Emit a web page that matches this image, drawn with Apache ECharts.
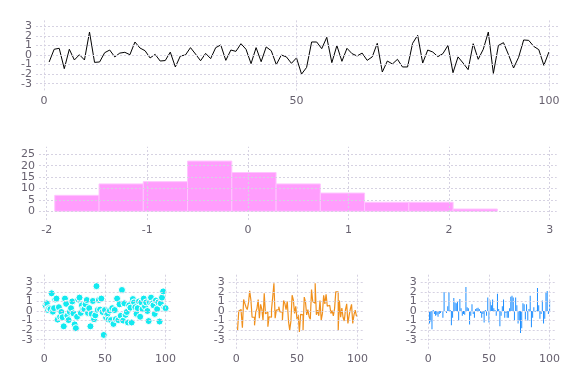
<!DOCTYPE html>
<html><head><meta charset="utf-8">
<script src="https://cdn.jsdelivr.net/npm/echarts@6/dist/echarts.min.js"></script>
<style>html,body{margin:0;padding:0;background:#fff}#c{width:576px;height:384px}</style>
</head><body><div id="c"></div>
<script>
const lineY = [-0.73,0.6,0.7,-1.43,0.6,-0.52,0.03,-0.52,2.4,-0.77,
-0.73,0.24,0.52,-0.2,0.2,0.28,0.03,1.36,0.73,0.45,
-0.31,0.07,-0.63,-0.58,0.3,-1.25,-0.1,0.0,0.77,0.1,
-0.6,0.17,-0.38,0.77,1.05,-0.56,0.52,0.38,1.18,0.6,
-0.9,0.77,-0.7,0.84,0.45,-1.0,0.0,-0.2,-0.87,-0.3,
-2.0,-1.3,1.36,1.36,0.66,1.85,-0.8,0.98,-0.66,0.7,
0.14,-0.1,0.2,-0.56,-0.2,1.22,-1.78,-0.63,-0.94,-0.45,
-1.25,-1.25,1.22,2.06,-0.84,0.52,0.31,-0.17,0.14,1.0,
-1.85,-0.2,-0.84,-1.53,1.18,-0.45,0.6,2.4,-1.92,1.0,
1.29,0.03,-1.36,-0.24,1.57,1.53,0.9,0.56,-1.08,0.31];
const histEdges = [-1.92,-1.48,-1.04,-0.60,-0.16,0.28,0.72,1.16,1.60,2.04,2.48];
const histCounts = [7,12,13,22,17,12,8,4,4,1];
const scatterY = [0.6,0.8,0.1,0.3,0.2,1.85,-0.07,0.3,1.2,1.3,
-0.9,0.4,-0.6,-0.1,-0.65,-1.6,1.3,0.75,-0.5,-0.95,
-0.1,0.3,1.0,-0.25,-1.4,-1.8,-0.6,1.2,1.4,-0.2,
0.6,0.2,0.2,0.7,1.15,-0.2,0.3,-1.6,-0.3,1.05,
-0.85,-0.45,2.6,0.1,1.15,0.15,1.3,-0.1,-2.5,0.1,
-0.7,-0.35,-0.9,0.05,-0.95,0.3,-1.35,0.1,-0.85,1.3,
-0.95,0.7,-0.5,2.2,-1.0,0.8,-0.4,-0.1,-1.2,0.6,
0.35,-1.2,1.25,0.9,0.4,-0.3,0.3,1.0,-0.6,0.9,
0.2,1.3,0.5,0.9,0.0,-1.05,0.9,1.4,0.8,0.6,
-0.3,1.1,0.2,0.9,-1.1,0.8,1.4,2.05,0.35,0.3];
const stepY = [-2.0,-2.0,0,0.15,-0.1,-1.75,1.2,0.8,0.4,0.15,
0.85,2.1,1.15,-0.65,-0.65,-1.5,-0.1,0.25,1.2,-0.75,
0.7,0.2,-0.95,1.85,-0.3,-0.1,-1.65,-0.6,-0.65,0.15,
1.45,2.9,-0.75,0.1,0.15,0.45,-0.1,-0.1,-0.95,1.1,
0.8,0.15,1.0,-1.05,-2.0,-1.05,1.65,1.15,-0.25,0.5,
-0.85,-0.4,-2.2,-0.35,-0.4,-2.0,1.45,0.95,-0.4,0.15,
-0.6,-0.85,2.25,1.0,0.8,2.9,-0.4,0.1,-0.5,1.1,
-0.95,-0.25,1.65,0.75,1.75,0.5,0.6,0.6,-0.25,0.05,
-0.5,0.25,2.0,2.0,-2.0,1.1,-0.65,0.3,-0.65,-1.05,
0.15,0.75,-1.3,-0.45,0.2,0.7,-1.3,-0.4,0.1,-0.5];
const barY = [-1.3,-1.1,-1.9,0.1,-0.3,-0.5,-0.4,-0.6,-0.3,-0.2,
-0.1,-0.7,2.0,0,-0.2,0.5,2.0,0.1,-1.5,-0.7,
1.35,0.9,0.8,1.0,-1.0,1.25,0.3,-0.5,-0.3,-0.4,
2.5,0.4,0.3,-1.4,-0.5,0.7,-0.3,-0.7,0.2,0.3,
0.35,0.2,-0.2,-0.7,-0.3,-1.2,0.1,-0.5,1.4,-1.2,
1.1,0.6,1.2,0.3,0.1,-0.5,1.8,0.2,-1.6,-0.5,
0.5,1.2,-0.7,-0.2,-0.7,-0.7,0.3,1.5,1.6,1.4,
-1.0,1.4,0.6,-1.3,-1.0,-2.3,-1.8,0.8,0.7,-0.9,
0.7,-1.0,0.2,1.6,-1.7,-0.7,0.4,-0.1,0.05,2.4,
0.6,-0.8,-0.3,1.1,-1.3,-0.8,2.0,2.1,-0.3,1.2];
const xTicksTop = [0,50,100];
const yTicksSym = [-3,-2,-1,0,1,2,3];
const yTicksSymOdd = [-3,-1,1,3];
const yTicksSymEven = [-2,0,2];
const xTicksHist = [-2,-1,0,1,2,3];
const yTicksHist = [0,5,10,15,20,25];
const xTicksSmall = [0,50,100];

const withIndex = arr => arr.map((v,i)=>[i+1,v]);
const labelColor = '#67616f';
const gridColor = '#d6d2e2';
const font = 'DejaVu Sans';
function makeX(gi,min,max,ticks){
  return {type:'value',gridIndex:gi,min:min,max:max,
    axisLine:{show:false},
    axisTick:{show:false,customValues:ticks},
    axisLabel:{customValues:ticks,color:labelColor,fontSize:11,fontFamily:font,margin:5,showMinLabel:true,showMaxLabel:true,hideOverlap:false},
    splitLine:{show:false}};
}
function makeY(gi,min,max,ticks){
  return {type:'value',gridIndex:gi,min:min,max:max,position:'left',offset:0,
    axisLine:{show:false},
    axisTick:{show:false,customValues:ticks},
    axisLabel:{customValues:ticks,color:labelColor,fontSize:11,fontFamily:font,margin:4,showMinLabel:true,showMaxLabel:true,hideOverlap:false},
    splitLine:{show:false}};
}
function gridLines(gi,xt,yt){
  return {type:'line',xAxisIndex:gi,yAxisIndex:gi,data:[],z:0,silent:true,
    markLine:{silent:true,animation:false,symbol:['none','none'],label:{show:false},
      lineStyle:{color:gridColor,type:[2,2],width:1},
      emphasis:{disabled:true},
      data:xt.map(v=>({xAxis:v})).concat(yt.map(v=>({yAxis:v})))}};
}
const grids = [
  {left:36,top:19.6,width:523,height:70.8},
  {left:39,top:146.7,width:517.7,height:73.3},
  {left:36.7,top:274,width:134,height:74.7},
  {left:228.7,top:274,width:134,height:74.7},
  {left:420.7,top:274,width:134,height:74.7}
];
const option = {
  animation:false,
  backgroundColor:'#ffffff',
  grid:grids,
  xAxis:[
    makeX(0,-1.6,102,xTicksTop),
    makeX(1,-2.077,3.07,xTicksHist),
    makeX(2,-6.3,104.2,xTicksSmall),
    makeX(3,-6.3,104.2,xTicksSmall),
    makeX(4,-6.3,104.2,xTicksSmall)
  ],
  yAxis:[
    makeY(0,-3.7,3.7,yTicksSymOdd),
    makeY(1,-3.8,28.3,yTicksHist),
    makeY(2,-3.94,3.87,yTicksSymOdd),
    makeY(3,-3.94,3.87,yTicksSymOdd),
    makeY(4,-3.94,3.87,yTicksSymOdd),
    makeY(0,-3.7,3.7,yTicksSymEven),
    makeY(2,-3.94,3.87,yTicksSymEven),
    makeY(3,-3.94,3.87,yTicksSymEven),
    makeY(4,-3.94,3.87,yTicksSymEven)
  ],
  series:[
    gridLines(0,xTicksTop,yTicksSym),
    gridLines(1,xTicksHist,yTicksHist),
    gridLines(2,xTicksSmall,yTicksSym),
    gridLines(3,xTicksSmall,yTicksSym),
    gridLines(4,xTicksSmall,yTicksSym),
    {type:'line',xAxisIndex:0,yAxisIndex:0,data:withIndex(lineY),showSymbol:false,
     lineStyle:{color:'#000000',width:1}},
    {type:'custom',xAxisIndex:1,yAxisIndex:1,
     data:histCounts.map((c,i)=>[histEdges[i],histEdges[i+1],c]),
     renderItem:function(params,api){
       const p0=api.coord([api.value(0),api.value(2)]);
       const p1=api.coord([api.value(1),0]);
       return {type:'rect',shape:{x:p0[0],y:p0[1],width:p1[0]-p0[0],height:p1[1]-p0[1]},
         style:{fill:'#ff9dfd',stroke:'#ffc4ff',lineWidth:1}};
     }},
    {type:'scatter',xAxisIndex:2,yAxisIndex:2,data:withIndex(scatterY),symbolSize:7,
     itemStyle:{color:'#12eaf0',borderColor:'#ffffff',borderWidth:1,opacity:1}},
    {type:'line',xAxisIndex:3,yAxisIndex:3,data:withIndex(stepY),step:'start',showSymbol:false,
     lineStyle:{color:'#f0901c',width:1.2}},
    {type:'bar',xAxisIndex:4,yAxisIndex:4,data:withIndex(barY),barWidth:1,
     itemStyle:{color:'#1e8fff'}}
  ]
};
const chart = echarts.init(document.getElementById('c'),null,{renderer:'canvas'});
chart.setOption(option);
</script></body></html>
